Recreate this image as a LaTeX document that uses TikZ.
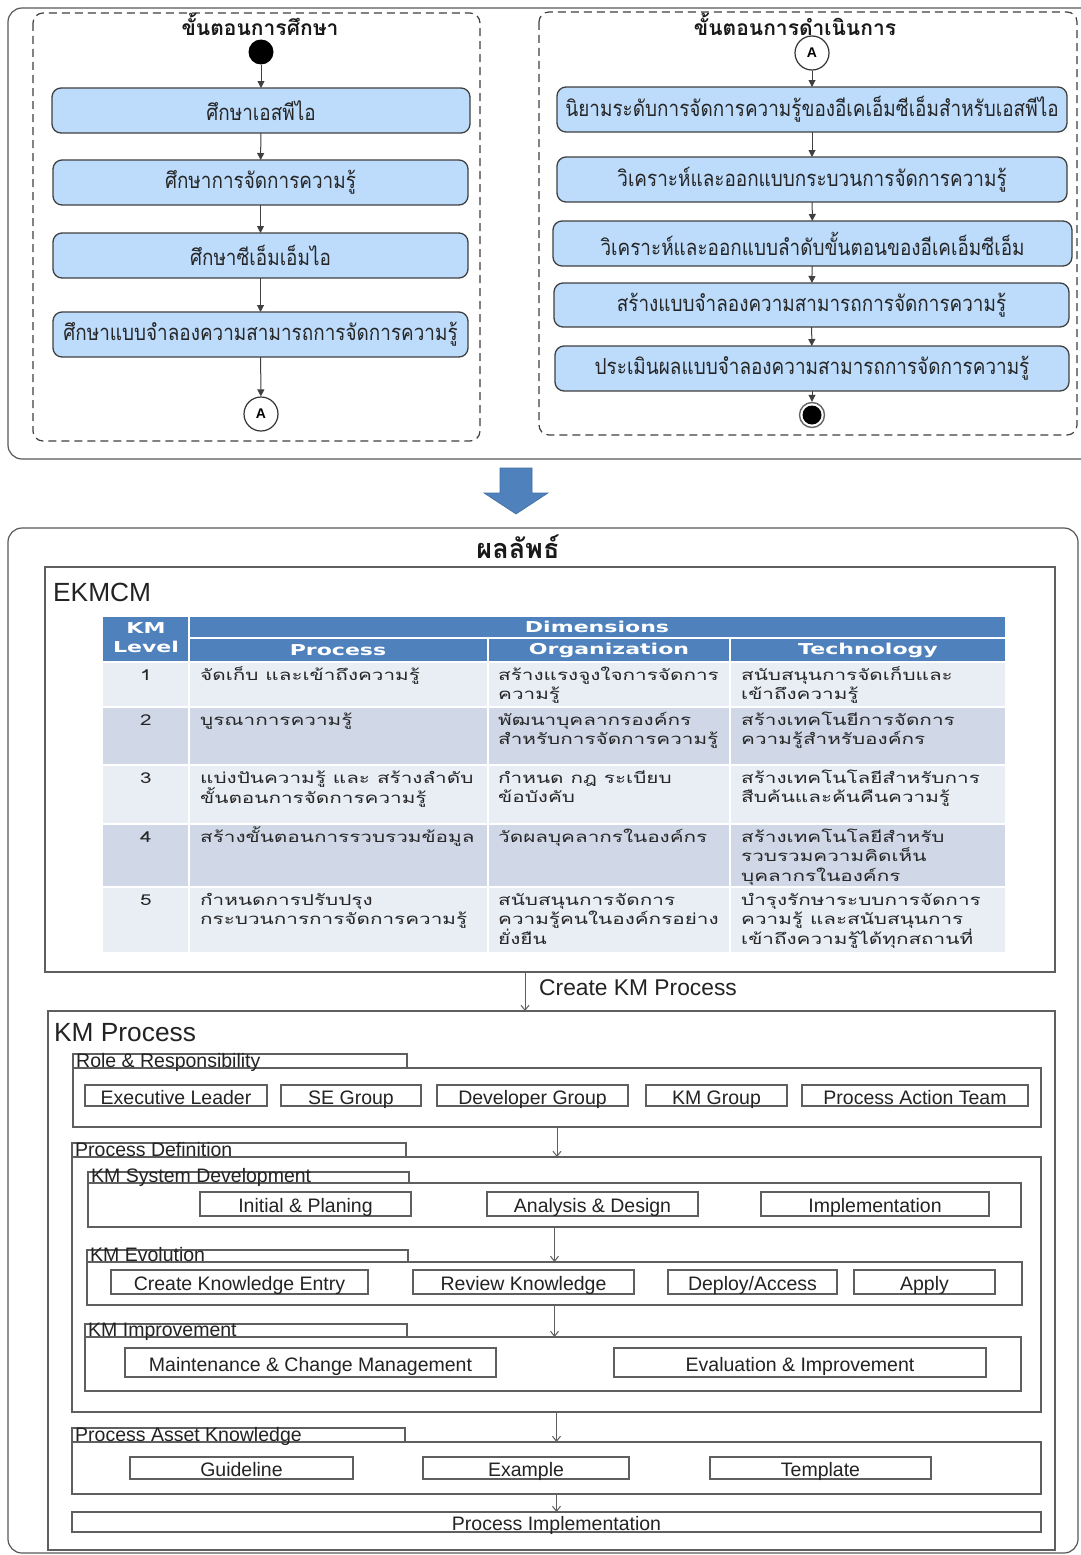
\documentclass[tikz,border=0pt]{standalone}
\usepackage{fontspec}
\setmainfont{Liberation Sans}
\newfontfamily\thaifont[Script=Thai]{Loma}
\newfontfamily\thaistep[Script=Thai,FakeStretch=0.86]{Loma}
\newfontfamily\thaitable[Script=Thai,FakeStretch=1.38]{Loma}
\newfontfamily\headfont[FakeStretch=1.47]{DejaVu Sans Bold}
\usetikzlibrary{arrows.meta,calc}

\definecolor{stepfill}{RGB}{189,220,252}
\definecolor{stepline}{RGB}{64,64,64}
\definecolor{hdrblue}{RGB}{79,129,189}
\definecolor{rowlight}{RGB}{233,237,244}
\definecolor{rowdark}{RGB}{208,216,232}
\definecolor{frameline}{RGB}{95,95,95}
\definecolor{labeltext}{RGB}{35,35,35}

% box from its two corners: style, name, x1, y1, x2, y2, text
\newcommand\placebox[7]{%
  \node[#1,minimum width={(#5)-(#3)},minimum height={(#6)-(#4)}] (#2)
    at ({((#3)+(#5))/2},{((#4)+(#6))/2}) {#7};}
% framed group with a title tab: name, x1, tab top, tab right, main top, x2, y2, title
\newcommand\tabgroup[8]{%
  \draw[kmline] (#2,#3) rectangle (#4,#5);
  \placebox{kmline,inner sep=0pt,outer sep=0pt}{#1}{#2}{#5}{#6}{#7}{}
  \node[kmlabel,anchor=base west] (#1-title) at ({(#2)+3},{(#5)-1}) {#8};}
% stacked lines of a table cell, baseline of the first line on the anchor
\newcommand\cellstack[1]{\vtop{\halign{##\hfil\cr#1\crcr}}}

\begin{document}
\begin{tikzpicture}[x=1pt,y=-1pt,
  stepbox/.style={draw=stepline,line width=1.3pt,fill=stepfill,rounded corners=9pt,
    inner sep=0pt,outer sep=0pt,text=black!85,font=\thaistep\fontsize{22}{26}\selectfont},
  phase/.style={draw=black!75,line width=1.2pt,dash pattern=on 8pt off 5pt,rounded corners=10pt},
  outerframe/.style={draw=black!65,line width=1.2pt,rounded corners=14pt},
  phasetitle/.style={font=\thaifont\bfseries\fontsize{21}{24}\selectfont,text=black!90},
  flow/.style={-{Triangle[length=7pt,width=7pt]},line width=1pt,draw=black!75},
  connector/.style={circle,draw=black!80,line width=1.2pt,fill=white,minimum size=34pt,
    inner sep=0pt,font=\bfseries\fontsize{14}{16}\selectfont},
  kmline/.style={draw=frameline,line width=1.3pt},
  kmbox/.style={kmline,inner sep=0pt,outer sep=0pt,text height=17pt,text depth=0pt,
    font=\fontsize{19.5}{22}\selectfont,text=labeltext},
  kmlabel/.style={inner sep=0pt,font=\fontsize{19.5}{22}\selectfont,text=labeltext},
  kmflow/.style={-{Straight Barb[length=5pt,width=8pt]},draw=frameline,line width=1pt},
  cell/.style={draw=none,inner sep=0pt,outer sep=0pt},
  hdrtext/.style={text=white,inner sep=0pt,font=\headfont\fontsize{15}{19}\selectfont},
  tbltext/.style={inner sep=0pt,text=black!85,font=\thaitable\fontsize{15}{19.5}\selectfont}]

\useasboundingbox (0,0) rectangle (1080,1555);
\fill[white] (0,0) rectangle (1080,1555);

%% ---------- study and implementation phases ----------
\draw[outerframe] (8,8) rectangle (1100,459);
\draw[phase] (33,13) rectangle (480,441);
\draw[phase] (539,12) rectangle (1077,435);

\node[phasetitle] (studytitle) at (260,24) {ขั้นตอนการศึกษา};
\node[circle,fill=black,minimum size=25pt,inner sep=0pt] (start) at (261,52) {};
\placebox{stepbox}{s1}{52}{88}{470}{133}{ศึกษาเอสพีไอ}
\placebox{stepbox}{s2}{53}{160}{468}{205}{ศึกษาการจัดการความรู้}
\placebox{stepbox}{s3}{53}{233}{468}{278}{ศึกษาซีเอ็มเอ็มไอ}
\placebox{stepbox}{s4}{53}{312}{468}{357}{ศึกษาแบบจำลองความสามารถการจัดการความรู้}
\node[connector] (aout) at (261,414) {A};
\draw[flow] (start) -- (s1);
\draw[flow] (s1) -- (s2);
\draw[flow] (s2) -- (s3);
\draw[flow] (s3) -- (s4);
\draw[flow] (s4) -- (aout);

\node[phasetitle] (worktitle) at (795,24) {ขั้นตอนการดำเนินการ};
\node[connector] (ain) at (812,53) {A};
\placebox{stepbox}{r1}{557}{87}{1067}{132}{นิยามระดับการจัดการความรู้ของอีเคเอ็มซีเอ็มสำหรับเอสพีไอ}
\placebox{stepbox}{r2}{557}{157}{1067}{202}{วิเคราะห์และออกแบบกระบวนการจัดการความรู้}
\placebox{stepbox}{r3}{553}{221}{1072}{266}{วิเคราะห์และออกแบบลำดับขั้นตอนของอีเคเอ็มซีเอ็ม}
\placebox{stepbox}{r4}{554}{283}{1069}{327}{สร้างแบบจำลองความสามารถการจัดการความรู้}
\placebox{stepbox}{r5}{555}{346}{1069}{391}{ประเมินผลแบบจำลองความสามารถการจัดการความรู้}
\node[circle,draw=black!60,line width=1.4pt,minimum size=25pt,inner sep=0pt] (finish) at (812,415) {};
\fill[black] (finish.center) circle (9.5);
\draw[flow] (ain) -- (r1);
\draw[flow] (r1) -- (r2);
\draw[flow] (r2) -- (r3);
\draw[flow] (r3) -- (r4);
\draw[flow] (r4) -- (r5);
\draw[flow] (r5) -- (finish);

%% ---------- block arrow ----------
\filldraw[fill=hdrblue,draw=hdrblue!85!black,line width=0.6pt]
  (500,468) -- (532,468) -- (532,493) -- (548,493) -- (516,514) -- (484,493) -- (500,493) -- cycle;

%% ---------- results ----------
\draw[outerframe] (8,528) rectangle (1078,1553);
\node[phasetitle,font=\thaifont\bfseries\fontsize{27}{30}\selectfont] (restitle) at (518,547) {ผลลัพธ์};

\placebox{kmline,inner sep=0pt,outer sep=0pt}{ekmcm}{45}{567}{1055}{972}{}
\node[kmlabel,font=\fontsize{26.3}{29}\selectfont,anchor=west] (ekmcmtitle) at (53,592) {EKMCM};

% table header
\placebox{cell,fill=hdrblue}{hlevel}{103}{617}{188}{661}{}
\placebox{cell,fill=hdrblue}{hdim}{190}{617}{1005}{637}{}
\placebox{cell,fill=hdrblue}{hproc}{190}{639}{487}{661}{}
\placebox{cell,fill=hdrblue}{horg}{489}{639}{729}{661}{}
\placebox{cell,fill=hdrblue}{htech}{731}{639}{1005}{661}{}
\node[hdrtext,align=center] (hlevel-t) at (146,638) {KM\\Level};
\node[hdrtext] (hdim-t) at (597,627) {Dimensions};
\node[hdrtext] (hproc-t) at (338,650) {Process};
\node[hdrtext] (horg-t) at (609,650) {Organization};
\node[hdrtext] (htech-t) at (868,650) {Technology};

% table body rows: tops 663, 708, 766, 825, 888
\foreach \rt/\rb/\rc [count=\k] in {663/706/rowlight,708/764/rowdark,766/823/rowlight,825/886/rowdark,888/952/rowlight}{
  \placebox{cell,fill=\rc}{c\k a}{103}{\rt}{188}{\rb}{}
  \placebox{cell,fill=\rc}{c\k b}{190}{\rt}{487}{\rb}{}
  \placebox{cell,fill=\rc}{c\k c}{489}{\rt}{729}{\rb}{}
  \placebox{cell,fill=\rc}{c\k d}{731}{\rt}{1005}{\rb}{}
  \node[tbltext,anchor=base] (n\k) at (146,\rt+17) {\k};
}
\node[tbltext,anchor=base west] (t1b) at (200,680) {\cellstack{จัดเก็บ และเข้าถึงความรู้}};
\node[tbltext,anchor=base west] (t1c) at (498,680) {\cellstack{สร้างแรงจูงใจการจัดการ\cr ความรู้}};
\node[tbltext,anchor=base west] (t1d) at (741,680) {\cellstack{สนับสนุนการจัดเก็บและ\cr เข้าถึงความรู้}};
\node[tbltext,anchor=base west] (t2b) at (200,725) {\cellstack{บูรณาการความรู้}};
\node[tbltext,anchor=base west] (t2c) at (498,725) {\cellstack{พัฒนาบุคลากรองค์กร\cr สำหรับการจัดการความรู้}};
\node[tbltext,anchor=base west] (t2d) at (741,725) {\cellstack{สร้างเทคโนยีการจัดการ\cr ความรู้สำหรับองค์กร}};
\node[tbltext,anchor=base west] (t3b) at (200,783) {\cellstack{แบ่งปันความรู้ และ สร้างลำดับ\cr ขั้นตอนการจัดการความรู้}};
\node[tbltext,anchor=base west] (t3c) at (498,783) {\cellstack{กำหนด กฎ ระเบียบ\cr ข้อบังคับ}};
\node[tbltext,anchor=base west] (t3d) at (741,783) {\cellstack{สร้างเทคโนโลยีสำหรับการ\cr สืบค้นและค้นคืนความรู้}};
\node[tbltext,anchor=base west] (t4b) at (200,842) {\cellstack{สร้างขั้นตอนการรวบรวมข้อมูล}};
\node[tbltext,anchor=base west] (t4c) at (498,842) {\cellstack{วัดผลบุคลากรในองค์กร}};
\node[tbltext,anchor=base west] (t4d) at (741,842) {\cellstack{สร้างเทคโนโลยีสำหรับ\cr รวบรวมความคิดเห็น\cr บุคลากรในองค์กร}};
\node[tbltext,anchor=base west] (t5b) at (200,905) {\cellstack{กำหนดการปรับปรุง\cr กระบวนการการจัดการความรู้}};
\node[tbltext,anchor=base west] (t5c) at (498,905) {\cellstack{สนับสนุนการจัดการ\cr ความรู้คนในองค์กรอย่าง\cr ยั่งยืน}};
\node[tbltext,anchor=base west] (t5d) at (741,905) {\cellstack{บำรุงรักษาระบบการจัดการ\cr ความรู้ และสนับสนุนการ\cr เข้าถึงความรู้ได้ทุกสถานที่}};

% KM process
\placebox{kmline,inner sep=0pt,outer sep=0pt}{kmproc}{48}{1011}{1055}{1550}{}
\node[kmlabel,font=\fontsize{26.3}{29}\selectfont,anchor=west] (kmproctitle) at (54,1033) {KM Process};
\draw[kmflow] ($(ekmcm.south)+(-25,0)$) -- ($(kmproc.north)+(-26.5,0)$);
\node[kmlabel,font=\fontsize{22.8}{26}\selectfont,anchor=west] (createlbl) at (539,988) {Create KM Process};

\tabgroup{role}{73}{1054}{407}{1068}{1041}{1127}{Role \& Responsibility}
\placebox{kmbox}{exl}{85}{1085}{267}{1106}{Executive Leader}
\placebox{kmbox}{seg}{281}{1085}{421}{1106}{SE Group}
\placebox{kmbox}{dvg}{437}{1085}{628}{1106}{Developer Group}
\placebox{kmbox}{kmg}{646}{1085}{787}{1106}{KM Group}
\placebox{kmbox}{pat}{802}{1085}{1028}{1106}{Process Action Team}

\tabgroup{pdef}{72}{1143}{406}{1157}{1041}{1412}{Process Definition}

\tabgroup{ksd}{88}{1172}{409}{1183}{1021}{1227}{KM System Development}
\placebox{kmbox}{ini}{200}{1192}{411}{1216}{Initial \& Planing}
\placebox{kmbox}{ana}{487}{1192}{698}{1216}{Analysis \& Design}
\placebox{kmbox}{imp}{761}{1192}{989}{1216}{Implementation}

\tabgroup{kev}{87}{1250}{408}{1262}{1022}{1305}{KM Evolution}
\placebox{kmbox}{cke}{111}{1270}{368}{1294}{Create Knowledge Entry}
\placebox{kmbox}{rvk}{413}{1270}{634}{1294}{Review Knowledge}
\placebox{kmbox}{dep}{668}{1270}{837}{1294}{Deploy/Access}
\placebox{kmbox}{app}{854}{1270}{995}{1294}{Apply}

\tabgroup{kim}{85}{1324}{407}{1337}{1021}{1391}{KM Improvement}
\placebox{kmbox}{mcm}{125}{1348}{496}{1377}{Maintenance \& Change Management}
\placebox{kmbox}{evi}{614}{1348}{986}{1377}{Evaluation \& Improvement}

\tabgroup{pak}{72}{1428}{405}{1442}{1041}{1494}{Process Asset Knowledge}
\placebox{kmbox}{gui}{130}{1457}{353}{1479}{Guideline}
\placebox{kmbox}{exa}{423}{1457}{629}{1479}{Example}
\placebox{kmbox}{tem}{710}{1457}{931}{1479}{Template}

\placebox{kmbox}{pimpl}{72}{1512}{1041}{1532}{Process Implementation}

\draw[kmflow] (role.south) -- (role.south |- pdef.north);
\draw[kmflow] (ksd.south) -- (ksd.south |- kev.north);
\draw[kmflow] (kev.south) -- (kev.south |- kim.north);
\draw[kmflow] (pdef.south) -- (pdef.south |- pak.north);
\draw[kmflow] (pak.south) -- (pak.south |- pimpl.north);
\end{tikzpicture}
\end{document}
